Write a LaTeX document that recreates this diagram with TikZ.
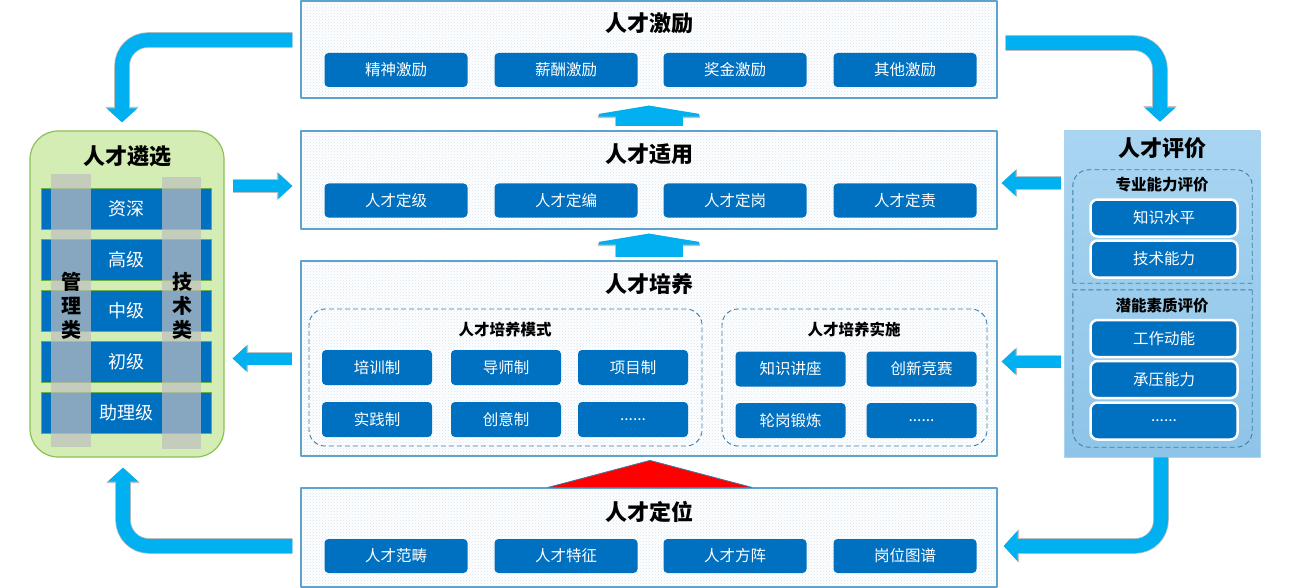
\documentclass[tikz,border=0pt]{standalone}
\usepackage{fontspec}
\setmainfont{Noto Sans CJK SC}
\usetikzlibrary{arrows.meta,patterns}

% Colors
\definecolor{arrowblue}{HTML}{00B0F0}
\definecolor{itemblue}{HTML}{0070C0}
\definecolor{frameblue}{HTML}{5FA2CC}
\definecolor{dotblue}{HTML}{D2E5F2}
\definecolor{dashblue}{HTML}{3F7EA8}
\definecolor{selfill}{HTML}{D3EDB5}
\definecolor{selline}{HTML}{8CC152}
\definecolor{evaltop}{HTML}{A9D5F1}
\definecolor{evalbottom}{HTML}{8EC4E8}
\definecolor{barline}{HTML}{70AD47}

\newcommand\moredots{......}

\tikzset{
  stagebox/.style={draw=frameblue, line width=1.2pt, preaction={fill=white},
    pattern=crosshatch dots, pattern color=dotblue,
    minimum width=696pt, inner sep=0pt},
  stagetitle/.style={font=\fontsize{22}{24}\selectfont\bfseries, inner sep=0pt},
  grouptitle/.style={font=\fontsize{15.5}{17}\selectfont\bfseries, inner sep=0pt},
  groupline/.style={draw=dashblue, dash pattern=on 5pt off 3pt, line width=0.9pt},
  groupbox/.style={groupline, rounded corners=16pt, inner sep=0pt},
  itembox/.style={fill=itemblue, text=white, rounded corners=4pt, inner sep=0pt,
    font=\fontsize{15.5}{17}\selectfont, minimum width=143pt, minimum height=34pt},
  smallitem/.style={itembox, minimum width=110pt, minimum height=35pt},
  evalitem/.style={itembox, draw=white, line width=2.5pt, rounded corners=7pt,
    minimum width=147pt, minimum height=37pt},
  rankbar/.style={fill=itemblue, draw=barline, line width=0.8pt, text=white, inner sep=0pt,
    font=\fontsize{18}{20}\selectfont, minimum width=170pt, minimum height=41pt},
  graybar/.style={fill=gray!50, opacity=0.7},
  catlabel/.style={align=center, inner sep=0pt, font=\fontsize{20}{24}\selectfont\bfseries},
  curvearrow/.style={draw=arrowblue, line width=14pt, rounded corners=26pt,
    -{Triangle[length=14pt,width=30pt]},
    preaction={draw=black!25, line width=15.6pt, -{Triangle[length=15.5pt,width=32.5pt]}}},
  sidearrow/.style={draw=arrowblue, line width=12pt,
    -{Triangle[length=14pt,width=25pt]},
    preaction={draw=black!25, line width=13.6pt, -{Triangle[length=15.5pt,width=27.5pt]}}},
  liftarrow/.style={draw=arrowblue, line width=67pt,
    -{Triangle[length=11pt,width=133pt]},
    preaction={draw=black!25, line width=68.6pt, -{Triangle[length=12.5pt,width=136pt]}}},
  redcap/.style={fill=red, draw=dashblue, line width=0.8pt}
}

\begin{document}
\begin{tikzpicture}[
  x=1pt, y=-1pt, % one pixel of the layout, y grows downward
  line join=round
]
  % ---- canvas ----
  \useasboundingbox (0,0) rectangle (1289,588);

  % ---- stage: 人才激励 ----
  \node[stagebox, minimum height=97pt] (jili) at (649,49.5) {};
  \node[stagetitle] (jili-t) at (649,23) {人才激励};
  \foreach \i/\x/\t in {1/396/精神激励, 2/566/薪酬激励, 3/735/奖金激励, 4/905/其他激励} {
    \node[itembox] (jili-\i) at (\x,70) {\t};
  }

  % ---- stage: 人才适用 ----
  \node[stagebox, minimum height=98pt] (shiyong) at (649,180) {};
  \node[stagetitle] (shiyong-t) at (649,154) {人才适用};
  \foreach \i/\x/\t in {1/396/人才定级, 2/566/人才定编, 3/735/人才定岗, 4/905/人才定责} {
    \node[itembox] (shiyong-\i) at (\x,200.5) {\t};
  }

  % ---- stage: 人才培养 ----
  \node[stagebox, minimum height=195pt] (peiyang) at (649,358.5) {};
  \node[stagetitle] (peiyang-t) at (649,284) {人才培养};
  % training modes
  \node[groupbox, minimum width=393pt, minimum height=137pt] (moshi) at (505.5,377.5) {};
  \node[grouptitle] (moshi-t) at (505,330) {人才培养模式};
  \foreach \i/\x/\y/\t in {1/377/367.5/培训制, 2/506/367.5/导师制, 3/633/367.5/项目制,
                           4/377/419.5/实践制, 5/506/419.5/创意制, 6/633/419.5/\moredots} {
    \node[smallitem] (moshi-\i) at (\x,\y) {\t};
  }
  % training practice
  \node[groupbox, minimum width=265pt, minimum height=137pt] (shishi) at (854.5,377.5) {};
  \node[grouptitle] (shishi-t) at (854,330) {人才培养实施};
  \foreach \i/\x/\y/\t in {1/790.5/369/知识讲座, 2/921.5/369/创新竞赛,
                           3/790.5/420.5/轮岗锻炼, 4/921.5/420.5/\moredots} {
    \node[smallitem] (shishi-\i) at (\x,\y) {\t};
  }

  % ---- stage: 人才定位 ----
  \node[stagebox, minimum height=99pt] (dingwei) at (649,537.5) {};
  \node[stagetitle] (dingwei-t) at (649,512) {人才定位};
  \foreach \i/\x/\t in {1/396/人才范畴, 2/566/人才特征, 3/735/人才方阵, 4/905/岗位图谱} {
    \node[itembox] (dingwei-\i) at (\x,556) {\t};
  }

  % ---- left: 人才遴选 ----
  \node[draw=selline, fill=selfill, line width=1.2pt, rounded corners=28pt,
        minimum width=194pt, minimum height=326pt] (lin) at (127,294) {};
  \node[stagetitle] (lin-t) at (127,156) {人才遴选};
  \foreach \i/\t in {0/资深, 1/高级, 2/中级, 3/初级, 4/助理级} {
    \node[rankbar] (rank-\i) at (126,208.5+51*\i) {\t};
  }
  % career tracks laid over the ranks
  \fill[graybar] (51,174) rectangle (91,447);
  \fill[graybar] (162,177) rectangle (201,449);
  \node[catlabel] (guanli) at (71,306) {管\\理\\类};
  \node[catlabel] (jishu) at (182,306) {技\\术\\类};

  % ---- right: 人才评价 ----
  \node[top color=evaltop, bottom color=evalbottom, draw=evaltop, line width=0.6pt,
        minimum width=196pt, minimum height=326pt] (pingjia) at (1162,294) {};
  \node[stagetitle] (pingjia-t) at (1162,148) {人才评价};
  % two dashed groups: round on the outside, square where they meet
  \node[inner sep=0pt, minimum width=179pt, minimum height=113pt] (zhuanye) at (1162.5,226.5) {};
  \draw[groupline] (zhuanye.south west) [rounded corners=16pt] -- (zhuanye.north west)
    -- (zhuanye.north east) [sharp corners] -- (zhuanye.south east) -- cycle;
  \node[grouptitle] (zhuanye-t) at (1162,185) {专业能力评价};
  \node[evalitem] (zhuanye-1) at (1164,218) {知识水平};
  \node[evalitem] (zhuanye-2) at (1164,259) {技术能力};
  \node[inner sep=0pt, minimum width=179pt, minimum height=157pt] (qianneng) at (1162.5,368.5) {};
  \draw[groupline] (qianneng.north east) [rounded corners=16pt] -- (qianneng.south east)
    -- (qianneng.south west) [sharp corners] -- (qianneng.north west) -- cycle;
  \node[grouptitle] (qianneng-t) at (1162,306) {潜能素质评价};
  \node[evalitem] (qianneng-1) at (1164,338.5) {工作动能};
  \node[evalitem] (qianneng-2) at (1164,379.5) {承压能力};
  \node[evalitem] (qianneng-3) at (1164,421) {\moredots};

  % ---- arrows up the middle column ----
  \draw[liftarrow, shorten <=4pt, shorten >=7pt] (shiyong.north) -- (jili.south);
  \draw[liftarrow, shorten <=3pt, shorten >=4pt] (peiyang.north) -- (shiyong.south);
  \draw[redcap] (dingwei.north) ++(-101,0) -- ++(102,-27) -- ++(102,27) -- cycle;

  % ---- side arrows ----
  \path (shiyong.west -| lin.east) ++(0,6) coordinate (lin-out);
  \draw[sidearrow, shorten <=8pt, shorten >=8pt] (lin-out) -- (lin-out -| shiyong.west);
  \draw[sidearrow, shorten <=8pt, shorten >=8pt] (peiyang.west) -- (peiyang.west -| lin.east);
  \path (shiyong.east) ++(0,3) coordinate (fit-in);
  \draw[sidearrow, shorten <=3pt, shorten >=4pt] (fit-in -| pingjia.west) -- (fit-in);
  \path (peiyang.east) ++(0,3) coordinate (train-in);
  \draw[sidearrow, shorten <=3pt, shorten >=4pt] (train-in -| pingjia.west) -- (train-in);

  % ---- curved arrows round the corners ----
  \path (jili.west) ++(-8,-9.5) coordinate (jili-out-l);
  \draw[curvearrow, shorten >=8pt] (jili-out-l) -| ([xshift=-5pt]lin.north);
  \path (jili.east) ++(8,-6.5) coordinate (jili-out-r);
  \draw[curvearrow, shorten >=9pt] (jili-out-r) -| ([xshift=-2pt]pingjia.north);
  \path (dingwei.west) ++(-8,8.5) coordinate (dingwei-out);
  \draw[curvearrow, shorten >=10pt] (dingwei-out) -| ([xshift=-4pt]lin.south);
  \path (dingwei.east) ++(0,8.5) coordinate (dingwei-in);
  \draw[curvearrow, shorten >=6pt] ([xshift=-1pt]pingjia.south) |- (dingwei-in);
\end{tikzpicture}
\end{document}
